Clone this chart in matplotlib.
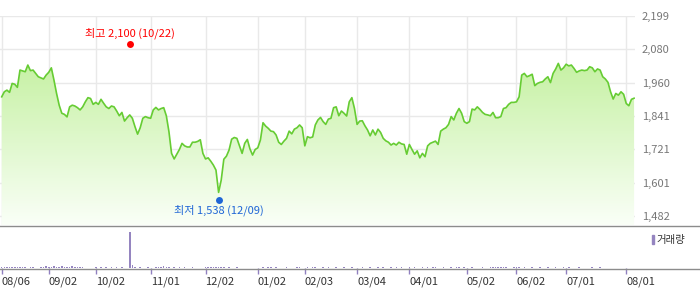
import matplotlib
matplotlib.use("Agg")
import matplotlib.pyplot as plt
import numpy as np
from matplotlib.lines import Line2D
from matplotlib.patches import Rectangle

plt.rcParams['font.family'] = ['Noto Sans CJK KR', 'DejaVu Sans']

# closing values, one per trading day
prices = [
    1909, 1927, 1933, 1925, 1957, 1954, 1943, 2005, 2002, 1999,
    2023, 2003, 2005, 1993, 1981, 1977, 1973, 1987, 1997, 2013,
    1969, 1921, 1879, 1850, 1846, 1837, 1873, 1879, 1876, 1870,
    1862, 1873, 1891, 1906, 1903, 1882, 1889, 1882, 1900, 1886,
    1873, 1867, 1876, 1873, 1858, 1841, 1853, 1822, 1834, 1844,
    1832, 1802, 1775, 1798, 1832, 1838, 1834, 1832, 1862, 1871,
    1862, 1867, 1870, 1841, 1784, 1706, 1686, 1703, 1720, 1742,
    1733, 1729, 1729, 1746, 1746, 1749, 1755, 1706, 1686, 1690,
    1678, 1664, 1646,
    1566, 1610, 1685, 1696, 1718, 1757, 1763, 1760, 1733, 1706,
    1742, 1756, 1722, 1700, 1720, 1726, 1754, 1816, 1804, 1796,
    1786, 1784, 1772, 1746, 1738, 1750, 1760, 1786, 1776, 1793,
    1798, 1808, 1798, 1733, 1766, 1762, 1765, 1808, 1826, 1835,
    1820, 1810, 1829, 1832, 1870, 1873, 1841, 1858, 1850, 1840,
    1891, 1906, 1867, 1810, 1822, 1823, 1805, 1790, 1769, 1790,
    1772, 1793, 1781, 1760, 1751, 1746, 1736, 1742, 1736, 1746,
    1740, 1738, 1703, 1738, 1720, 1703, 1715, 1690, 1706, 1694,
    1733, 1742, 1746, 1750, 1738, 1786, 1793, 1798, 1810, 1838,
    1826, 1850, 1867, 1850, 1820, 1814, 1820, 1865, 1862, 1873,
    1864, 1853, 1846, 1844, 1841, 1853, 1834, 1834, 1838, 1867,
    1870, 1882, 1889, 1889, 1891, 1909, 1987, 1993, 1981,
    1985, 1990, 1949, 1957, 1961, 1963, 1973, 1981, 1960, 1993,
    2009, 2029, 2005, 2013, 2026, 2020, 2023, 2011, 1997, 2002,
    2005, 2003, 2005, 2017, 2013, 1999, 2009, 2005, 1981, 1973,
    1961, 1927, 1901, 1921, 1915, 1927, 1918, 1885, 1877, 1900,
    1904,
]

volume = [
    4, 4, 4, 4, 4, 4, 4, 4, 4, 4, 0, 3, 3, 0, 0, 3, 4, 5, 4, 4,
    5, 4, 4, 5, 4, 4, 4, 5, 4, 4, 4, 4, 0, 0, 0, 0, 3, 0, 3, 0,
    3, 0, 3, 0, 3, 0, 3, 0, 0, 100, 8, 3, 0, 3, 0, 0, 3, 0, 0, 3,
    4, 3, 5, 4, 3, 0, 3, 0, 3, 0, 3, 0, 0, 3, 0, 0, 0, 0, 4, 3,
    4, 4, 3, 4, 3, 4, 0, 3, 0, 0, 3, 0, 0, 0, 0, 0, 0, 0, 0, 0,
    3, 0, 3, 3, 0, 3, 0, 0, 0, 3, 0, 0, 0, 3, 3, 0, 0, 3, 0, 3,
    3, 0, 0, 3, 0, 3, 0, 0, 3, 0, 0, 3, 0, 0, 3, 0, 0, 0, 3, 0,
    0, 3, 0, 0, 3, 0, 3, 0, 0, 3, 0, 3, 0, 3, 0, 0, 3, 0, 3, 0,
    0, 3, 0, 3, 0, 3, 3, 0, 0, 3, 0, 0, 3, 0, 3, 3, 0, 3, 0, 0,
    3, 0, 0, 0, 3, 0, 0, 4, 3, 4, 4, 3, 4, 3, 0, 0, 3, 4, 3, 0,
    3, 0, 0, 3, 0, 0, 3, 0, 0, 3, 0, 0, 3, 0, 0, 3, 0, 3, 0, 0,
    0, 3, 0, 0, 0, 0, 3, 0, 0, 3, 0, 0, 0, 0, 0, 0, 0, 0, 0, 0,
    0, 0, 0,
]

tick_idx = [0, 18, 36, 57, 78, 98, 116, 136, 156, 178, 197, 216, 239]
tick_labels = ['08/06', '09/02', '10/02', '11/01', '12/02', '01/02', '02/03',
               '03/04', '04/01', '05/02', '06/02', '07/01', '08/01']
y_ticks = [1482, 1601, 1721, 1841, 1960, 2080, 2199]

high_idx, high_val, high_text = 49, 2100, '최고 2,100 (10/22)'
low_idx, low_val, low_text = 83, 1538, '최저 1,538 (12/09)'

W, H = 700, 289
fig = plt.figure(figsize=(W / 100, H / 100), dpi=100)
ax = fig.add_axes([0, 1 - 225 / H, 635 / W, 209 / H])
axv = fig.add_axes([0, 1 - 268 / H, 635 / W, 42 / H])

x = np.arange(len(prices))
xlim = (-0.65, len(prices) - 0.65)
ylim = (1449, 2199)

# gradient fill under the line
grad = np.linspace(0, 1, 256).reshape(-1, 1)
top = np.array([0.72, 0.93, 0.55])
bot = np.array([0.98, 1.0, 0.97])
img = top * (1 - grad[..., None]) + bot * grad[..., None]
img = img.reshape(256, 1, 3)
poly = ax.fill_between(x, prices, ylim[0], facecolor='none', edgecolor='none')
im = ax.imshow(img, extent=[xlim[0], xlim[1], ylim[0], ylim[1]], aspect='auto',
               origin='upper', zorder=1)
im.set_clip_path(poly.get_paths()[0], transform=ax.transData)
ax.plot(x, prices, color='#66cc33', lw=1.2, zorder=3)

ax.plot(high_idx, high_val, 'o', color='#ff0000', ms=5, zorder=4, mec='none')
ax.annotate(high_text, (high_idx, high_val), xytext=(0, 10), textcoords='offset pixels',
            ha='center', va='center', color='#ff0000', fontsize=8)
ax.plot(low_idx, low_val, 'o', color='#1f66d6', ms=5, zorder=4, mec='none')
ax.annotate(low_text, (low_idx, low_val), xytext=(0, -10), textcoords='offset pixels',
            ha='center', va='center', color='#1f66d6', fontsize=8)

ax.set_xlim(xlim)
ax.set_ylim(ylim)
ax.set_xticks(tick_idx)
ax.set_yticks(y_ticks)
ax.set_yticklabels([f'{v:,}' for v in y_ticks])
ax.yaxis.tick_right()
ax.tick_params(axis='y', length=0, pad=5, labelsize=8, labelcolor='#777777')
ax.tick_params(axis='x', length=0, labelbottom=False)
ax.grid(True, color='#e9e9e9', lw=1, zorder=0)
ax.set_axisbelow(True)
for s in ax.spines.values():
    s.set_visible(False)

# volume panel
axv.bar(x, volume, width=0.6, color='#9585c0')
axv.set_xlim(xlim)
axv.set_ylim(0, 117)
axv.set_yticks([])
axv.set_xticks(tick_idx)
axv.set_xticklabels(tick_labels, ha='left')
axv.tick_params(axis='x', direction='out', length=4, width=1, color='#9080c0',
                labelsize=8, labelcolor='#333333', pad=2)
for s in axv.spines.values():
    s.set_visible(False)
axv.patch.set_alpha(0)

fig.add_artist(Line2D([0, 1], [1 - 225.5 / H] * 2, color='#8c8c8c', lw=1,
                      transform=fig.transFigure))
fig.add_artist(Line2D([0, 1], [1 - 268.5 / H] * 2, color='#8c8c8c', lw=1,
                      transform=fig.transFigure))
fig.add_artist(Rectangle((652 / W, 1 - 244 / H), 2 / W, 9 / H, color='#9585c0',
                         transform=fig.transFigure))
fig.text(656 / W, 1 - 239.5 / H, '거래량', fontsize=7.5, color='#333333', va='center')

fig.savefig('out.png', dpi=100)
